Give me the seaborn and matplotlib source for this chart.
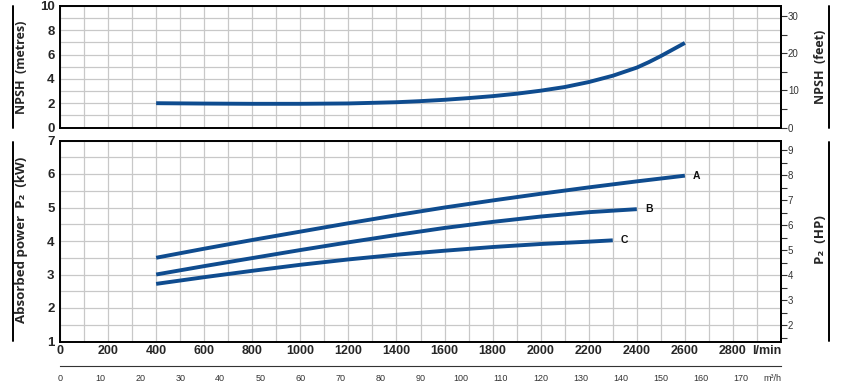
import numpy as np
import pandas as pd
import matplotlib
matplotlib.use("Agg")
import matplotlib.pyplot as plt
from matplotlib.lines import Line2D
import seaborn as sns

# ---------------- data ----------------
npsh_flow = [400, 600, 800, 1000, 1200, 1400, 1500, 1600, 1700, 1800, 1900, 2000, 2100,
             2200, 2300, 2400, 2450, 2500, 2550, 2600]
npsh_m = [2.0, 1.97, 1.95, 1.95, 1.98, 2.08, 2.17, 2.28, 2.42, 2.58, 2.78, 3.03, 3.33,
          3.74, 4.26, 4.93, 5.38, 5.88, 6.42, 6.96]

flow_a = [400, 600, 800, 1000, 1200, 1400, 1600, 1800, 2000, 2200, 2400, 2600]
power_a = [3.50, 3.77, 4.03, 4.28, 4.53, 4.77, 5.00, 5.21, 5.41, 5.60, 5.78, 5.95]
flow_b = [400, 600, 800, 1000, 1200, 1400, 1600, 1800, 2000, 2200, 2400]
power_b = [3.00, 3.25, 3.49, 3.73, 3.96, 4.18, 4.39, 4.57, 4.73, 4.86, 4.95]
flow_c = [400, 600, 800, 1000, 1200, 1400, 1600, 1800, 2000, 2200, 2300]
power_c = [2.72, 2.92, 3.11, 3.29, 3.45, 3.59, 3.71, 3.82, 3.91, 3.98, 4.02]
curve_names = ["A", "B", "C"]

lmin_ticks = list(range(0, 3001, 200))
lmin_labels = [str(v) for v in range(0, 2801, 200)] + ["l/min"]
m3h_ticks = list(range(0, 181, 10))
m3h_labels = [str(v) for v in range(0, 171, 10)] + ["m³/h"]
npsh_m_ticks = [0, 2, 4, 6, 8, 10]
npsh_ft_ticks = [0, 10, 20, 30]
kw_ticks = [1, 2, 3, 4, 5, 6, 7]
hp_ticks = [2, 3, 4, 5, 6, 7, 8, 9]

# ---------------- style ----------------
sns.set_style("white")
plt.rcParams["font.family"] = ["DejaVu Sans"]
NUM_FONT = ["Liberation Sans", "DejaVu Sans"]
LAB_FONT = ["Open Sans", "DejaVu Sans"]
BLUE = "#0f4c8f"
GRID = "#c8c8c8"
LW = 2.8

fig = plt.figure(figsize=(8.42, 3.84), dpi=100)
L, W = 60 / 842, 721 / 842
ax1 = fig.add_axes([L, 1 - 127.5 / 384, W, 121.5 / 384])
ax2 = fig.add_axes([L, 1 - 341.5 / 384, W, 201 / 384])

df_npsh = pd.DataFrame({"flow": npsh_flow, "npsh": npsh_m})
sns.lineplot(data=df_npsh, x="flow", y="npsh", ax=ax1, color=BLUE, lw=LW,
             solid_capstyle="butt")

df_p = pd.concat([
    pd.DataFrame({"flow": f, "power": p, "curve": n})
    for f, p, n in zip([flow_a, flow_b, flow_c], [power_a, power_b, power_c], curve_names)
])
sns.lineplot(data=df_p, x="flow", y="power", hue="curve", ax=ax2,
             palette={n: BLUE for n in curve_names}, lw=LW, legend=False,
             solid_capstyle="butt")
for f, p, n in zip([flow_a, flow_b, flow_c], [power_a, power_b, power_c], curve_names):
    ax2.annotate(n, (f[-1], p[-1]), xytext=(6, 0), textcoords="offset points",
                 ha="left", va="center", fontsize=7.5, fontweight="bold",
                 family=NUM_FONT, color="#111")

for ax in (ax1, ax2):
    ax.set_xlim(0, 3000)
    ax.set_xticks(lmin_ticks)
    ax.set_xticks(range(100, 3000, 200), minor=True)
    ax.grid(True, which="both", color=GRID, lw=0.9)
    ax.set_axisbelow(True)
    for s in ax.spines.values():
        s.set_color("black")
        s.set_linewidth(1.4)
    ax.tick_params(axis="both", which="both", length=0, pad=4)
    ax.set_xlabel("")
    ax.set_ylabel("")

ax1.set_ylim(0, 10)
ax1.set_yticks(npsh_m_ticks)
ax1.set_yticks(range(1, 10, 2), minor=True)
ax1.set_xticklabels([])
ax1.set_yticklabels([str(v) for v in npsh_m_ticks], fontsize=9.5,
                    fontweight="bold", family=NUM_FONT)

ax2.set_ylim(1, 7)
ax2.set_yticks(kw_ticks)
ax2.set_yticks(np.arange(1.5, 7, 1.0), minor=True)
ax2.set_yticklabels([str(v) for v in kw_ticks], fontsize=9.5,
                    fontweight="bold", family=NUM_FONT)
ax2.set_xticklabels(lmin_labels, fontsize=9, fontweight="bold", family=NUM_FONT)
ax2.tick_params(axis="x", pad=2.5)
ax2.get_xticklabels()[-1].set_ha("right")

# secondary (right) axes
sec1 = ax1.secondary_yaxis("right", functions=(lambda m: m / 0.3048, lambda f: f * 0.3048))
sec1.set_yticks(npsh_ft_ticks)
sec1.set_yticks([5, 15, 25], minor=True)
sec2 = ax2.secondary_yaxis("right", functions=(lambda k: k / 0.7457, lambda h: h * 0.7457))
sec2.set_yticks(hp_ticks)
sec2.set_yticks(np.arange(1.5, 9.1, 1.0), minor=True)
for sec, ticks in ((sec1, npsh_ft_ticks), (sec2, hp_ticks)):
    sec.set_yticklabels([str(v) for v in ticks], fontsize=7, family=NUM_FONT, color="#333")
    sec.tick_params(axis="y", which="both", length=4, width=0.8, color="#333", pad=1)
    sec.spines["right"].set_linewidth(1.4)

# m3/h axis
ax3 = fig.add_axes([L, 1 - 366 / 384, W, 0.0005])
ax3.set_xlim(0, 180)
ax3.set_yticks([])
for k in ("top", "left", "right"):
    ax3.spines[k].set_visible(False)
ax3.spines["bottom"].set_color("#333")
ax3.spines["bottom"].set_linewidth(0.8)
ax3.set_xticks(m3h_ticks)
ax3.set_xticks(range(5, 180, 10), minor=True)
ax3.set_xticklabels(m3h_labels, fontsize=6.5, family=NUM_FONT, color="#333")
ax3.get_xticklabels()[-1].set_ha("right")
ax3.tick_params(axis="x", which="major", length=4, width=0.9, color="#333", pad=2)
ax3.tick_params(axis="x", which="minor", length=3, width=0.9, color="#333")
ax3.patch.set_alpha(0)

# axis titles and side rules
fig.text(22 / 842, 1 - 67 / 384, "NPSH  (metres)", rotation=90, ha="center", va="center",
         fontsize=9, fontweight="bold", family=LAB_FONT)
fig.text(820 / 842, 1 - 67 / 384, "NPSH  (feet)", rotation=90, ha="center", va="center",
         fontsize=9, fontweight="bold", family=LAB_FONT)
fig.text(22 / 842, 1 - 240 / 384, "Absorbed power  P\u2082  (kW)", rotation=90, ha="center",
         va="center", fontsize=9.5, fontweight="bold", family=LAB_FONT)
fig.text(820 / 842, 1 - 240 / 384, "P\u2082  (HP)", rotation=90, ha="center", va="center",
         fontsize=9.5, fontweight="bold", family=LAB_FONT)
for x in (12.7 / 842, 828.5 / 842):
    fig.add_artist(Line2D([x, x], [1 - 6 / 384, 1 - 128 / 384], color="black", lw=1.4))
    fig.add_artist(Line2D([x, x], [1 - 142 / 384, 1 - 341 / 384], color="black", lw=1.4))

fig.savefig("out.png", dpi=100)
